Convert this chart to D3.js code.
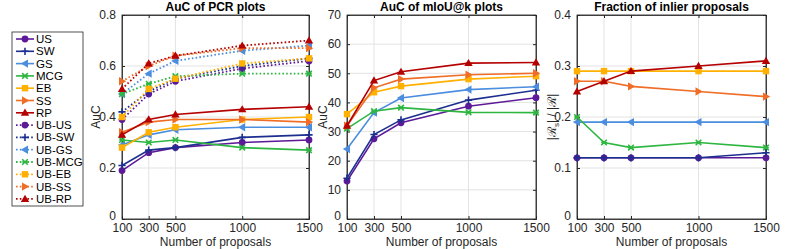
<!DOCTYPE html>
<html>
<head>
<meta charset="utf-8">
<script src="https://cdn.jsdelivr.net/npm/d3@7"></script>
<style>
  body { margin: 0; background: #fff; }
  text { font-family: "Liberation Sans", Arial, sans-serif; }
</style>
</head>
<body>
<script>
"use strict";

const width = 789;
const height = 249;

const proposals = [100, 300, 500, 1000, 1500];
const methods = ["US", "SW", "GS", "MCG", "EB", "SS", "RP"];
const colors = ["#5c1a98", "#1c2f8f", "#4b8ddf", "#2db640", "#ffb000", "#ef6d26", "#b40000"];
const markers = ["circle", "plus", "left", "cross", "square", "right", "up"];

// AuC of PCR plots
const pcrUS = [0.19, 0.26, 0.28, 0.30, 0.31];
const pcrSW = [0.21, 0.27, 0.28, 0.32, 0.33];
const pcrGS = [0.29, 0.33, 0.35, 0.36, 0.36];
const pcrMCG = [0.31, 0.30, 0.31, 0.28, 0.27];
const pcrEB = [0.28, 0.34, 0.36, 0.39, 0.40];
const pcrSS = [0.34, 0.38, 0.39, 0.39, 0.38];
const pcrRP = [0.33, 0.39, 0.41, 0.43, 0.44];
const ubUS = [0.39, 0.49, 0.54, 0.59, 0.62];
const ubSW = [0.42, 0.50, 0.55, 0.60, 0.63];
const ubGS = [0.49, 0.57, 0.62, 0.66, 0.68];
const ubMCG = [0.49, 0.53, 0.56, 0.57, 0.57];
const ubEB = [0.40, 0.51, 0.55, 0.61, 0.63];
const ubSS = [0.54, 0.60, 0.64, 0.67, 0.67];
const ubRP = [0.51, 0.61, 0.64, 0.68, 0.70];

// AuC of mIoU@k plots
const iouUS = [13, 27.5, 33, 38.7, 41.6];
const iouSW = [14, 29, 34, 40.8, 44.2];
const iouGS = [24, 36.5, 41.5, 44.4, 45.4];
const iouMCG = [31, 37, 38.2, 36.6, 36.5];
const iouEB = [36, 43.5, 45.6, 48, 49];
const iouSS = [32, 45, 48, 49.5, 50];
const iouRP = [32, 47.5, 50.5, 53.5, 53.7];

// Fraction of inlier proposals
const fracUS = [0.12, 0.12, 0.12, 0.12, 0.12];
const fracSW = [0.12, 0.12, 0.12, 0.12, 0.13];
const fracGS = [0.19, 0.19, 0.19, 0.19, 0.19];
const fracMCG = [0.20, 0.15, 0.14, 0.15, 0.14];
const fracEB = [0.29, 0.29, 0.29, 0.29, 0.29];
const fracSS = [0.27, 0.27, 0.26, 0.25, 0.24];
const fracRP = [0.25, 0.27, 0.29, 0.30, 0.31];

const pcrTicks = [0, 0.2, 0.4, 0.6, 0.8];
const iouTicks = [0, 10, 20, 30, 40, 50, 60, 70];
const fracTicks = [0, 0.1, 0.2, 0.3, 0.4];

const svg = d3.select("body").append("svg")
  .attr("width", width)
  .attr("height", height);

// draw a marker shape centred on 0,0
function drawMarker(g, type, color) {
  const s = 3.6;
  if (type === "circle") {
    g.append("circle").attr("r", 3.4).attr("fill", color);
  } else if (type === "square") {
    g.append("rect").attr("x", -3.2).attr("y", -3.2).attr("width", 6.4).attr("height", 6.4).attr("fill", color);
  } else if (type === "plus") {
    g.append("path").attr("d", `M${-s},0H${s}M0,${-s}V${s}`).attr("stroke", color).attr("stroke-width", 1.6);
  } else if (type === "cross") {
    const c = 2.8;
    g.append("path").attr("d", `M${-c},${-c}L${c},${c}M${-c},${c}L${c},${-c}M${-c},0H${c}`)
      .attr("stroke", color).attr("stroke-width", 1.6);
  } else if (type === "up") {
    g.append("path").attr("d", `M0,${-4.2}L4.2,3L-4.2,3Z`).attr("fill", color);
  } else if (type === "left") {
    g.append("path").attr("d", `M${-4.2},0L3,-4.2L3,4.2Z`).attr("fill", color);
  } else if (type === "right") {
    g.append("path").attr("d", `M4.2,0L-3,-4.2L-3,4.2Z`).attr("fill", color);
  }
}

function panel(opts) {
  const x = d3.scaleLinear().domain([100, 1500]).range([opts.left, opts.right]);
  const y = d3.scaleLinear().domain(opts.yDomain).range([219, 15]);
  const g = svg.append("g");

  // grid
  g.selectAll(".gx").data(proposals).enter().append("line")
    .attr("x1", d => x(d)).attr("x2", d => x(d)).attr("y1", 15).attr("y2", 219)
    .attr("stroke", "#e3e3e3").attr("stroke-width", 1);
  g.selectAll(".gy").data(opts.yTicks).enter().append("line")
    .attr("x1", opts.left).attr("x2", opts.right).attr("y1", d => y(d)).attr("y2", d => y(d))
    .attr("stroke", "#e3e3e3").attr("stroke-width", 1);

  // box
  g.append("rect").attr("x", opts.left).attr("y", 15)
    .attr("width", opts.right - opts.left).attr("height", 204)
    .attr("fill", "none").attr("stroke", "#262626").attr("stroke-width", 0.8);

  // axes with inward ticks
  const xAxis = d3.axisBottom(x).tickValues(proposals).tickSize(-3).tickPadding(4).tickFormat(d3.format("d"));
  const yAxis = d3.axisLeft(y).tickValues(opts.yTicks).tickSize(-3).tickPadding(6).tickFormat(opts.fmt);
  const ax = g.append("g").attr("transform", "translate(0,219)").call(xAxis);
  const ay = g.append("g").attr("transform", `translate(${opts.left},0)`).call(yAxis);
  g.append("g").attr("transform", "translate(0,15)")
    .call(d3.axisTop(x).tickValues(proposals).tickSize(-3).tickFormat(""));
  g.append("g").attr("transform", `translate(${opts.right},0)`)
    .call(d3.axisRight(y).tickValues(opts.yTicks).tickSize(-3).tickFormat(""));
  g.selectAll(".domain").attr("stroke", "#262626").attr("stroke-width", 0.8);
  g.selectAll(".tick line").attr("stroke", "#262626");
  [ax, ay].forEach(a => a.selectAll("text")
    .attr("font-size", 12).attr("fill", "#262626")
    .attr("font-family", "Liberation Sans, Arial, sans-serif"));
  // nudge the zero label up a little so it clears the first x label
  ay.selectAll(".tick text").filter(d => d === 0).attr("dy", "0.02em");

  // series
  const line = d3.line().x((d, i) => x(proposals[i])).y(d => y(d));
  opts.series.forEach(s => {
    g.append("path").datum(s.values).attr("d", line)
      .attr("fill", "none").attr("stroke", s.color)
      .attr("stroke-width", s.dotted ? 1.8 : 1.6)
      .attr("stroke-dasharray", s.dotted ? "1.6,2.2" : null);
    s.values.forEach((v, i) => {
      const m = g.append("g").attr("transform", `translate(${x(proposals[i])},${y(v)})`);
      drawMarker(m, s.marker, s.color);
    });
  });

  // title
  svg.append("text").attr("x", (opts.left + opts.right) / 2).attr("y", 11)
    .attr("text-anchor", "middle").attr("font-size", 12).attr("font-weight", "bold")
    .attr("fill", "#000").text(opts.title);
  // x label
  svg.append("text").attr("x", (opts.left + opts.right) / 2).attr("y", 246)
    .attr("text-anchor", "middle").attr("font-size", 12).attr("fill", "#262626")
    .text("Number of proposals");
  return { g, x, y };
}

const solid = [pcrUS, pcrSW, pcrGS, pcrMCG, pcrEB, pcrSS, pcrRP];
const dotted = [ubUS, ubSW, ubGS, ubMCG, ubEB, ubSS, ubRP];
const iou = [iouUS, iouSW, iouGS, iouMCG, iouEB, iouSS, iouRP];
const frac = [fracUS, fracSW, fracGS, fracMCG, fracEB, fracSS, fracRP];

function makeSeries(arrs, isDotted) {
  return arrs.map((v, i) => ({ values: v, color: colors[i], marker: markers[i], dotted: isDotted }));
}

panel({
  left: 122, right: 309, yDomain: [0, 0.8], yTicks: pcrTicks, fmt: d3.format(".1~f"),
  title: "AuC of PCR plots",
  series: makeSeries(dotted, true).concat(makeSeries(solid, false))
});
panel({
  left: 347, right: 536, yDomain: [0, 70], yTicks: iouTicks, fmt: d3.format("d"),
  title: "AuC of mIoU@k plots",
  series: makeSeries(iou, false)
});
panel({
  left: 577, right: 766, yDomain: [0, 0.4], yTicks: fracTicks, fmt: d3.format(".1~f"),
  title: "Fraction of inlier proposals",
  series: makeSeries(frac, false)
});

// y labels
svg.append("text").attr("transform", "translate(100,117) rotate(-90)")
  .attr("text-anchor", "middle").attr("font-size", 12).attr("fill", "#262626").text("AuC");
svg.append("text").attr("transform", "translate(327,117) rotate(-90)")
  .attr("text-anchor", "middle").attr("font-size", 12).attr("fill", "#262626").text("AuC");
const fl = svg.append("text").attr("transform", "translate(556,117) rotate(-90)")
  .attr("text-anchor", "middle").attr("font-size", 12).attr("fill", "#262626")
  .attr("font-family", "DejaVu Sans, sans-serif");
fl.append("tspan").text("|ℛ");
fl.append("tspan").attr("font-size", 8).attr("dy", 3).text("s");
fl.append("tspan").attr("dy", -3).text("| / |ℛ|");

// legend
const legendNames = methods.concat(methods.map(m => "UB-" + m));
const legend = svg.append("g");
legend.append("rect").attr("x", 12).attr("y", 32).attr("width", 71).attr("height", 174)
  .attr("fill", "#fff").attr("stroke", "#262626").attr("stroke-width", 0.8);
legendNames.forEach((name, i) => {
  const k = i % 7;
  const isDotted = i >= 7;
  const yy = 39 + i * 12.3;
  legend.append("line").attr("x1", 16).attr("x2", 34).attr("y1", yy).attr("y2", yy)
    .attr("stroke", colors[k]).attr("stroke-width", isDotted ? 1.8 : 1.6)
    .attr("stroke-dasharray", isDotted ? "1.6,2.2" : null);
  drawMarker(legend.append("g").attr("transform", `translate(25,${yy})`), markers[k], colors[k]);
  legend.append("text").attr("x", 36).attr("y", yy + 4).attr("font-size", 11.5)
    .attr("fill", "#000").text(name);
});
</script>
</body>
</html>
